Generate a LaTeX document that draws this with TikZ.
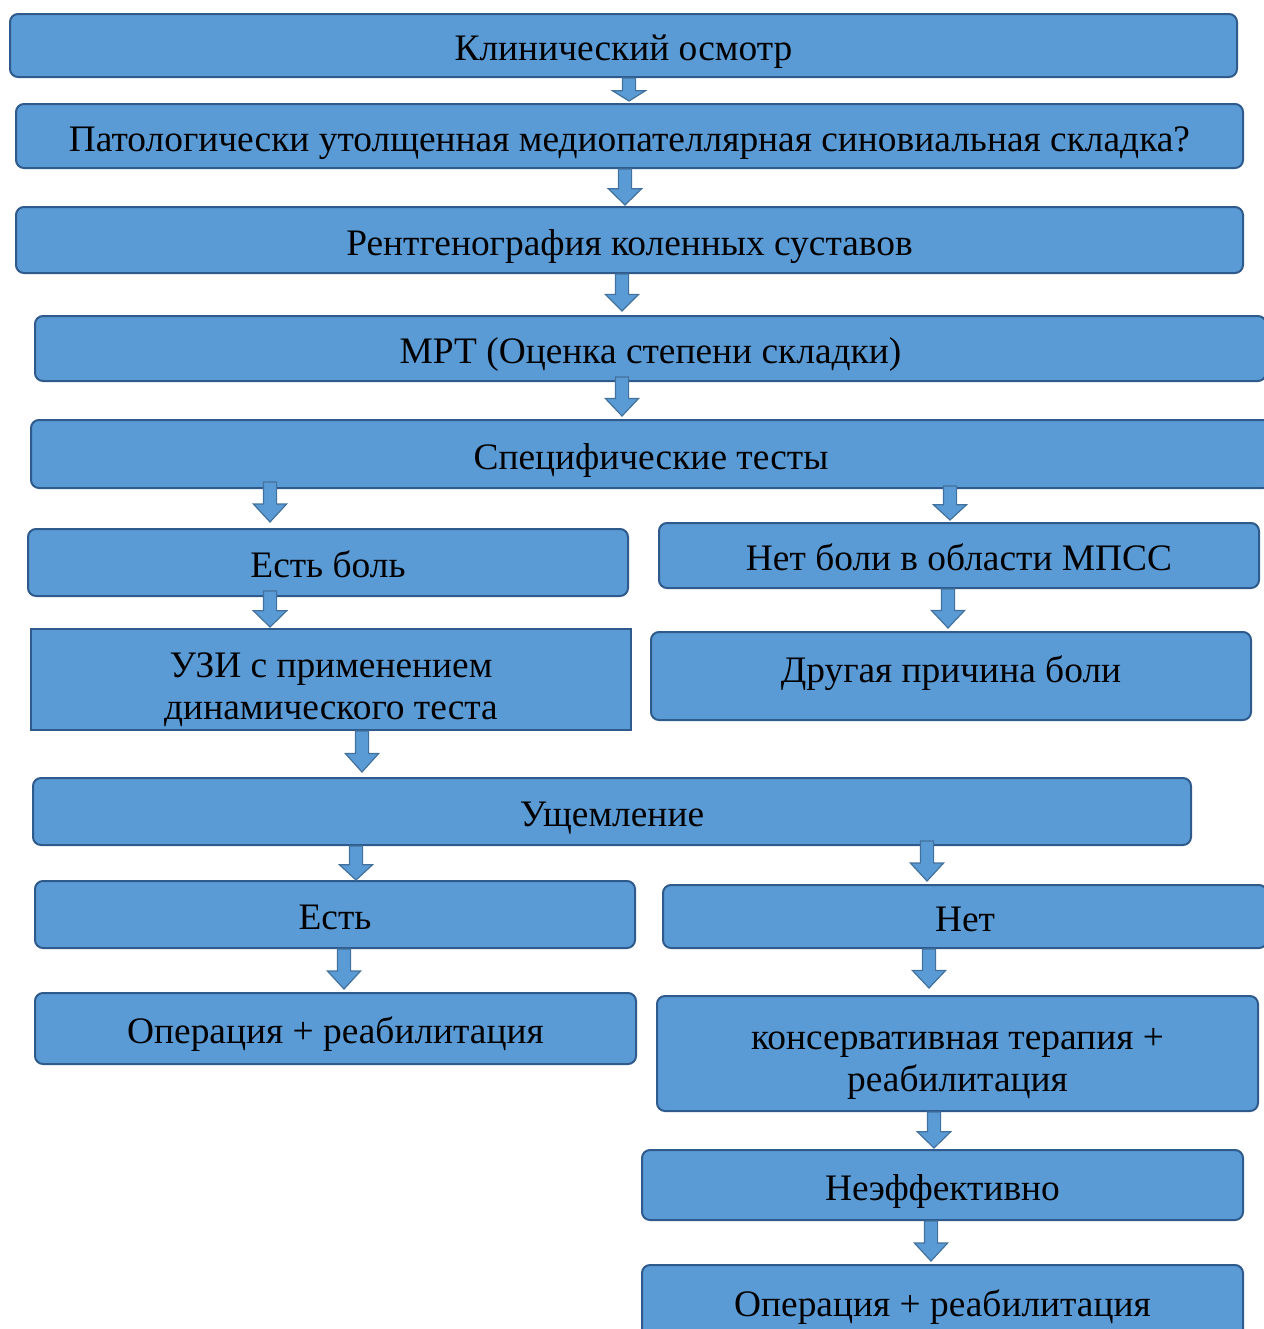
\documentclass[tikz,border=0pt]{standalone}
\usepackage{fontspec}
\setmainfont{Liberation Serif}
\usetikzlibrary{calc}
\definecolor{boxfill}{HTML}{5B9BD5}
\definecolor{boxline}{HTML}{2F5A8C}
\definecolor{arrline}{HTML}{41719C}
\tikzset{
  box/.style={draw=boxline, fill=boxfill, line width=1pt, rounded corners=4pt,
    align=center, inner sep=0pt, font=\fontsize{18.7}{21}\selectfont,
    execute at begin node={\rule{0pt}{20pt}}, execute at end node={\rule[-5pt]{0pt}{5pt}}},
  barrow/.style={fill=boxfill, draw=arrline, line width=0.6pt,
    to path={let \p1=(\tikztostart), \p2=(\tikztotarget), \n1={0.45*(\y1-\y2)} in
      (\x2-3.3pt,\y1) -- (\x2+3.3pt,\y1) -- (\x2+3.3pt,\y2+\n1) -- (\x2+8.3pt,\y2+\n1)
      -- (\x2,\y2) -- (\x2-8.3pt,\y2+\n1) -- (\x2-3.3pt,\y2+\n1) -- cycle}}
}
\begin{document}
\begin{tikzpicture}[x=0.5pt,y=-0.5pt]
\useasboundingbox (0,0) rectangle (1264,1329);
\clip (0,0) rectangle (1264,1329);
% upper chain
\node[box, minimum width=613.5pt, minimum height=31.5pt] (k1) at (623.5,45.5) {Клинический осмотр};
\node[box, minimum width=613.5pt, minimum height=32pt] (k2) at (629.5,136) {Патологически утолщенная медиопателлярная синовиальная складка?};
\node[box, minimum width=613.5pt, minimum height=33pt] (k3) at (629.5,240) {Рентгенография коленных суставов};
\node[box, minimum width=615.5pt, minimum height=32.5pt] (k4) at (650.5,348.5) {МРТ (Оценка степени складки)};
\node[box, minimum width=620pt, minimum height=34pt] (k5) at (651,454) {Специфические тесты};
% two branches
\node[box, minimum width=300pt, minimum height=33.5pt] (k6) at (328,562.5) {Есть боль};
\node[box, minimum width=300pt, minimum height=32.5pt] (k7) at (959,555.5) {Нет боли в области МПСС};
\node[box, rounded corners=0pt, minimum width=300pt, minimum height=50.5pt] (k8) at (331,679.5) {\rule{0pt}{24pt}УЗИ с применением\\динамического теста};
\node[box, minimum width=300pt, minimum height=44pt] (k9) at (951,676) {Другая причина боли\rule[-13.6pt]{0pt}{13.6pt}};
\node[box, minimum width=579pt, minimum height=33.5pt] (k10) at (612,811.5) {Ущемление};
\node[box, minimum width=300pt, minimum height=33.5pt] (k11) at (335,914.5) {Есть};
\node[box, minimum width=302pt, minimum height=31.5pt] (k12) at (965,916.5) {Нет};
\node[box, minimum width=300.5pt, minimum height=35.5pt] (k13) at (335.5,1028.5) {Операция + реабилитация};
\node[box, minimum width=300.5pt, minimum height=57.5pt] (k14) at (957.5,1053.5) {\rule{0pt}{22pt}консервативная терапия +\\реабилитация};
\node[box, minimum width=300.5pt, minimum height=35pt] (k15) at (942.5,1185) {Неэффективно};
\node[box, minimum width=300.5pt, minimum height=36pt] (k16) at (942.5,1301) {Операция + реабилитация};
% block arrows: source/target/x shift/start inside/gap before target (px)
\foreach \s/\t/\dx/\ys/\ye in {k1/k2/-0.5/0/2, k2/k3/-4.5/0/1, k3/k4/-28.5/0/4, k4/k5/-29/5/3,
  k5/k6/-58/7/6, k5/k7/-9/3/2, k6/k8/-61/6/1, k7/k9/-3/0/3, k8/k10/-250/0/5,
  k10/k11/21/0/0, k10/k12/-38/5/3, k11/k13/8.5/0/3, k12/k14/-28.5/0/7,
  k14/k15/-8.5/0/1, k15/k16/-11.5/0/3}
  \path[barrow] ([yshift=\ys*0.5pt]\s.south) to ([xshift=\dx*0.5pt,yshift=\ye*0.5pt]\t.north);
\end{tikzpicture}
\end{document}
